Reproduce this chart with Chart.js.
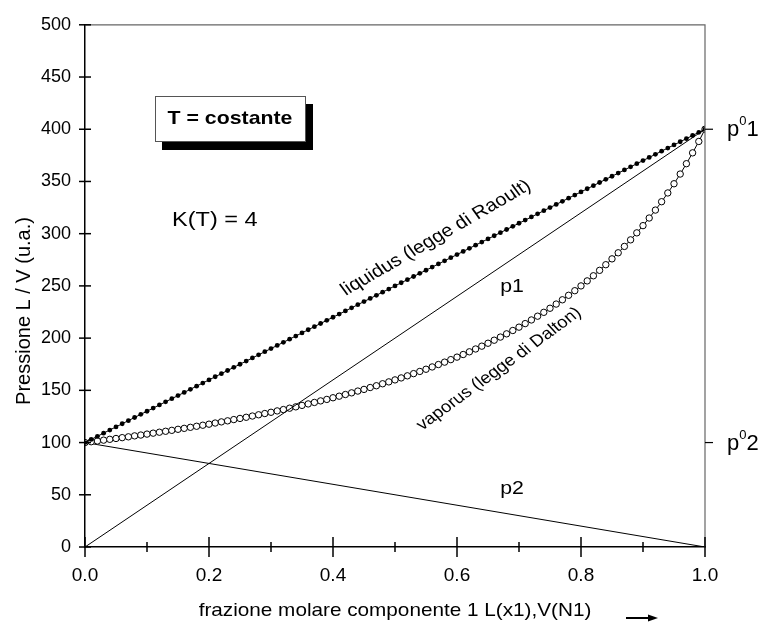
<!DOCTYPE html>
<html lang="it">
<head>
<meta charset="UTF-8">
<title>Pressione L / V</title>
<script src="https://cdn.jsdelivr.net/npm/chart.js"></script>
<style>
  html, body { margin: 0; padding: 0; background: #fff; }
  #grafico { display: block; }
</style>
</head>
<body>
<canvas id="grafico" width="763" height="628"></canvas>
<script>
// frazione molare (asse x)
const xFrac = [0,0.01,0.02,0.03,0.04,0.05,0.06,0.07,0.08,0.09,
  0.10,0.11,0.12,0.13,0.14,0.15,0.16,0.17,0.18,0.19,
  0.20,0.21,0.22,0.23,0.24,0.25,0.26,0.27,0.28,0.29,
  0.30,0.31,0.32,0.33,0.34,0.35,0.36,0.37,0.38,0.39,
  0.40,0.41,0.42,0.43,0.44,0.45,0.46,0.47,0.48,0.49,
  0.50,0.51,0.52,0.53,0.54,0.55,0.56,0.57,0.58,0.59,
  0.60,0.61,0.62,0.63,0.64,0.65,0.66,0.67,0.68,0.69,
  0.70,0.71,0.72,0.73,0.74,0.75,0.76,0.77,0.78,0.79,
  0.80,0.81,0.82,0.83,0.84,0.85,0.86,0.87,0.88,0.89,
  0.90,0.91,0.92,0.93,0.94,0.95,0.96,0.97,0.98,0.99,1];

// liquidus (legge di Raoult)
const liquidusP = [100,103,106,109,112,115,118,121,124,127,
  130,133,136,139,142,145,148,151,154,157,
  160,163,166,169,172,175,178,181,184,187,
  190,193,196,199,202,205,208,211,214,217,
  220,223,226,229,232,235,238,241,244,247,
  250,253,256,259,262,265,268,271,274,277,
  280,283,286,289,292,295,298,301,304,307,
  310,313,316,319,322,325,328,331,334,337,
  340,343,346,349,352,355,358,361,364,367,
  370,373,376,379,382,385,388,391,394,397,400];

// vaporus (legge di Dalton)
const vaporusP = [100.0,100.8,101.5,102.3,103.1,103.9,104.7,105.5,106.4,107.2,
  108.1,109.0,109.9,110.8,111.7,112.7,113.6,114.6,115.6,116.6,
  117.6,118.7,119.8,120.8,122.0,123.1,124.2,125.4,126.6,127.8,
  129.0,130.3,131.6,132.9,134.2,135.6,137.0,138.4,139.9,141.3,
  142.9,144.4,146.0,147.6,149.3,150.9,152.7,154.4,156.3,158.1,
  160.0,161.9,163.9,166.0,168.1,170.2,172.4,174.7,177.0,179.4,
  181.8,184.3,186.9,189.6,192.3,195.1,198.0,201.0,204.1,207.3,
  210.5,213.9,217.4,221.0,224.7,228.6,232.6,236.7,241.0,245.4,
  250.0,254.8,259.7,264.9,270.3,275.9,281.7,287.8,294.1,300.8,
  307.7,315.0,322.6,330.6,339.0,347.8,357.1,367.0,377.4,388.3,400.0];

// pressioni parziali (rette)
const estremiX = [0, 1];
const p1Line = [0, 400];
const p2Line = [100, 0];

// tacche destre
const pressioniPure = [400, 100];
const etichettePure = ['1', '2'];

const FONT = "'Liberation Sans', Arial, Helvetica, sans-serif";
const SX = 1.12; // il riferimento e' un po' "allargato" in orizzontale

function coppie(xs, ys) {
  return xs.map(function (x, i) { return { x: x, y: ys[i] }; });
}

// scrive un testo allargato in orizzontale, eventualmente ruotato
function scrivi(ctx, testo, x, y, font, align, angoloVisto) {
  ctx.save();
  ctx.font = font;
  ctx.textAlign = align || 'center';
  ctx.textBaseline = 'middle';
  ctx.translate(x, y);
  ctx.scale(SX, 1);
  if (angoloVisto) {
    const th = Math.atan(Math.tan(angoloVisto * Math.PI / 180) * SX);
    ctx.rotate(-th);
  }
  ctx.fillText(testo, 0, 0);
  ctx.restore();
}

// disegna tacche, bordi e scritte sopra il grafico
const decorazioni = {
  id: 'decorazioni',
  afterDraw: function (chart) {
    const ctx = chart.ctx;
    const xs = chart.scales.x;
    const ys = chart.scales.y;
    const a = chart.chartArea;

    ctx.save();
    // bordo superiore e destro
    ctx.strokeStyle = '#666';
    ctx.lineWidth = 1.2;
    ctx.beginPath();
    ctx.moveTo(a.left, a.top);
    ctx.lineTo(a.right, a.top);
    ctx.lineTo(a.right, a.bottom);
    ctx.stroke();

    ctx.strokeStyle = '#000';
    ctx.lineWidth = 1.5;
    // tacche asse x
    xs.ticks.forEach(function (t) {
      const px = xs.getPixelForValue(t.value);
      const maggiore = Math.round(t.value * 10) % 2 === 0;
      const l = maggiore ? 10 : 5;
      ctx.beginPath();
      ctx.moveTo(px, a.bottom - l);
      ctx.lineTo(px, a.bottom + l);
      ctx.stroke();
    });
    // tacche asse y
    ys.ticks.forEach(function (t) {
      const py = ys.getPixelForValue(t.value);
      ctx.beginPath();
      ctx.moveTo(a.left - 6, py);
      ctx.lineTo(a.left + 6, py);
      ctx.stroke();
    });
    // tacche destre p0
    ctx.lineWidth = 1.2;
    ctx.fillStyle = '#000';
    pressioniPure.forEach(function (v, i) {
      const py = ys.getPixelForValue(v);
      ctx.beginPath();
      ctx.moveTo(a.right, py);
      ctx.lineTo(a.right + 8, py);
      ctx.stroke();
      ctx.textBaseline = 'alphabetic';
      ctx.textAlign = 'left';
      ctx.font = '22px ' + FONT;
      ctx.fillText('p', a.right + 22, py + 7);
      const wp = ctx.measureText('p').width;
      ctx.font = '13px ' + FONT;
      ctx.fillText('0', a.right + 22 + wp, py - 4);
      const w0 = ctx.measureText('0').width;
      ctx.font = '22px ' + FONT;
      ctx.fillText(etichettePure[i], a.right + 22 + wp + w0, py + 7);
    });

    // titolo asse x + freccia
    scrivi(ctx, 'frazione molare componente 1 L(x1),V(N1)', 395, 611, '18.5px ' + FONT);
    ctx.lineWidth = 2;
    ctx.beginPath();
    ctx.moveTo(626, 618);
    ctx.lineTo(650, 618);
    ctx.stroke();
    ctx.beginPath();
    ctx.moveTo(658, 618);
    ctx.lineTo(648, 614.5);
    ctx.lineTo(648, 621.5);
    ctx.closePath();
    ctx.fill();

    // titolo asse y
    ctx.save();
    ctx.font = '20px ' + FONT;
    ctx.textAlign = 'center';
    ctx.textBaseline = 'middle';
    ctx.translate(24, 311);
    ctx.rotate(-Math.PI / 2);
    ctx.fillText('Pressione L / V (u.a.)', 0, 0);
    ctx.restore();

    // riquadro T = costante
    ctx.fillStyle = '#000';
    ctx.fillRect(162, 142, 151, 8);
    ctx.fillRect(306, 104, 7, 46);
    ctx.fillStyle = '#fff';
    ctx.fillRect(155, 96, 151, 46);
    ctx.strokeStyle = '#555';
    ctx.lineWidth = 1;
    ctx.strokeRect(155.5, 96.5, 150, 45);
    ctx.fillStyle = '#000';
    scrivi(ctx, 'T = costante', 230, 119, 'bold 19px ' + FONT);

    scrivi(ctx, 'K(T) = 4', 172, 220, '21px ' + FONT, 'left');
    scrivi(ctx, 'p1', 512, 287, '19px ' + FONT);
    scrivi(ctx, 'p2', 512, 489, '19px ' + FONT);

    scrivi(ctx, 'liquidus (legge di Raoult)', 436, 238, '18px ' + FONT, 'center', 30);
    scrivi(ctx, 'vaporus (legge di Dalton)', 499, 369, '16.5px ' + FONT, 'center', 36);

    ctx.restore();
  }
};

new Chart(document.getElementById('grafico'), {
  type: 'scatter',
  data: {
    datasets: [
      {
        label: 'p1',
        data: coppie(estremiX, p1Line),
        showLine: true,
        borderColor: '#000',
        borderWidth: 1,
        pointRadius: 0
      },
      {
        label: 'liquidus',
        data: coppie(xFrac, liquidusP),
        showLine: true,
        borderColor: '#000',
        borderWidth: 1,
        pointRadius: 2.4,
        pointBackgroundColor: '#000',
        pointBorderWidth: 0
      },
      {
        label: 'vaporus',
        data: coppie(xFrac, vaporusP),
        showLine: true,
        borderColor: '#000',
        borderWidth: 1,
        pointRadius: 3.2,
        pointBackgroundColor: '#fff',
        pointBorderColor: '#000',
        pointBorderWidth: 1
      },
      {
        label: 'p2',
        data: coppie(estremiX, p2Line),
        showLine: true,
        borderColor: '#000',
        borderWidth: 1,
        pointRadius: 0
      }
    ]
  },
  options: {
    responsive: false,
    animation: false,
    devicePixelRatio: 1,
    layout: { padding: { top: 23, right: 58, left: 0, bottom: 0 } },
    plugins: {
      legend: { display: false },
      tooltip: { enabled: false }
    },
    scales: {
      x: {
        type: 'linear',
        min: 0,
        max: 1,
        afterFit: function (s) { s.height = 81; },
        grid: { display: false, drawTicks: false },
        border: { display: true, color: '#000', width: 1.5 },
        ticks: {
          stepSize: 0.1,
          padding: 17,
          color: '#000',
          font: { family: FONT, size: 19 },
          maxRotation: 0,
          autoSkip: false,
          callback: function (v) {
            return Math.round(v * 10) % 2 === 0 ? v.toFixed(1) : '';
          }
        }
      },
      y: {
        type: 'linear',
        min: 0,
        max: 500,
        afterFit: function (s) { s.width = 85; },
        grid: { display: false, drawTicks: false },
        border: { display: true, color: '#000', width: 1.5 },
        ticks: {
          stepSize: 50,
          padding: 14,
          color: '#000',
          font: { family: FONT, size: 18 }
        }
      }
    }
  },
  plugins: [decorazioni]
});
</script>
</body>
</html>
